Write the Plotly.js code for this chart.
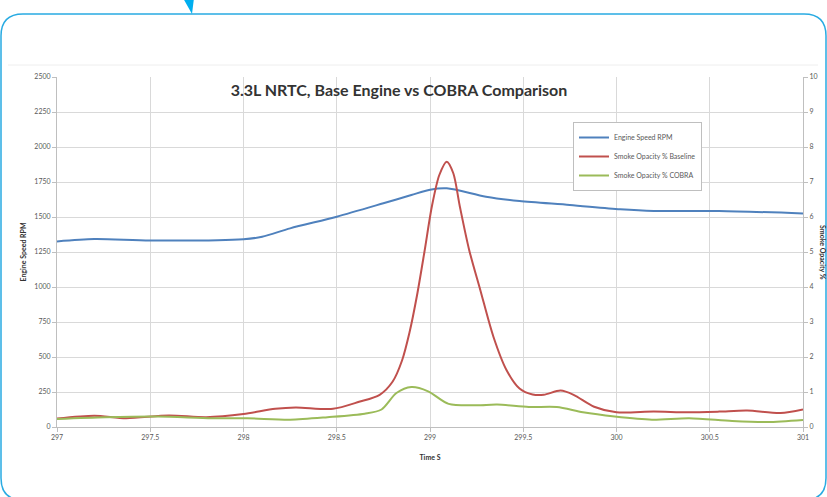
<!DOCTYPE html>
<html><head><meta charset="utf-8">
<script src="https://cdn.plot.ly/plotly-3.0.1.min.js"></script>
<style>html,body{margin:0;padding:0;background:#fff}#chart{width:827px;height:497px}</style>
</head><body><div id="chart"></div>
<script>
// Engine speed (RPM, left axis)
const timeRpm = [297, 297.2, 297.5, 298, 298.1, 298.25, 298.5, 298.75, 298.9, 299, 299.09, 299.3, 299.48, 299.75, 300.02, 300.2, 300.55, 301];
const engineRpm = [1325, 1342, 1332, 1341, 1359, 1419, 1502, 1598, 1657, 1695, 1705, 1645, 1614, 1586, 1555, 1543, 1543, 1525];

// Smoke opacity baseline (%, right axis)
const timeBase = [297, 297.2, 297.37, 297.6, 297.8, 298.0, 298.17, 298.28, 298.48, 298.62, 298.73, 298.8, 298.85, 298.89, 298.93, 298.97, 299.01, 299.05, 299.09, 299.125, 299.16, 299.21, 299.27, 299.34, 299.41, 299.48, 299.55, 299.61, 299.7, 299.77, 299.88, 300.0, 300.2, 300.38, 300.55, 300.7, 300.88, 301];
const opacityBase = [0.24, 0.32, 0.25, 0.33, 0.28, 0.37, 0.52, 0.56, 0.52, 0.72, 0.92, 1.3, 1.9, 2.7, 3.75, 5.0, 6.3, 7.2, 7.58, 7.25, 6.3, 5.06, 3.91, 2.58, 1.63, 1.1, 0.93, 0.92, 1.04, 0.92, 0.58, 0.42, 0.44, 0.42, 0.44, 0.47, 0.4, 0.5];

// Smoke opacity COBRA (%, right axis)
const timeCobra = [297, 297.26, 297.54, 297.83, 298.02, 298.25, 298.45, 298.65, 298.74, 298.82, 298.9, 298.99, 299.1, 299.25, 299.36, 299.53, 299.68, 299.82, 299.99, 300.19, 300.39, 300.62, 300.81, 301];
const opacityCobra = [0.23, 0.28, 0.3, 0.25, 0.25, 0.21, 0.28, 0.38, 0.5, 0.97, 1.14, 1.02, 0.66, 0.62, 0.64, 0.57, 0.57, 0.42, 0.3, 0.21, 0.25, 0.17, 0.14, 0.2];

const xTicks = [297, 297.5, 298, 298.5, 299, 299.5, 300, 300.5, 301];
const xTickText = ['297', '297.5', '298', '298.5', '299', '299.5', '300', '300.5', '301'];
const yTicks = [0, 250, 500, 750, 1000, 1250, 1500, 1750, 2000, 2250, 2500];
const y2Ticks = [0, 1, 2, 3, 4, 5, 6, 7, 8, 9, 10];

const names = ['Engine Speed RPM', 'Smoke Opacity % Baseline', 'Smoke Opacity % COBRA'];

// pixel -> paper helpers for decoration
const L = 57, R = 803, T = 77, B = 427;
const px = X => (X - L) / (R - L);
const py = Y => (B - Y) / (B - T);

const traces = [
  {x: timeRpm, y: engineRpm, name: names[0], type: 'scatter', mode: 'lines',
   line: {color: '#4F81BD', width: 2, shape: 'spline', smoothing: 0.8}},
  {x: timeBase, y: opacityBase, name: names[1], type: 'scatter', mode: 'lines', yaxis: 'y2',
   line: {color: '#C0504D', width: 2, shape: 'spline', smoothing: 0.8}},
  {x: timeCobra, y: opacityCobra, name: names[2], type: 'scatter', mode: 'lines', yaxis: 'y2',
   line: {color: '#9BBB59', width: 2, shape: 'spline', smoothing: 0.8}}
];

const fr = 22, fL = 1, fRr = 826, fT = 14, fB = 500;
const framePath =
  'M ' + px(fL + fr) + ',' + py(fB) +
  ' Q ' + px(fL) + ',' + py(fB) + ' ' + px(fL) + ',' + py(fB - fr) +
  ' L ' + px(fL) + ',' + py(fT + fr) +
  ' Q ' + px(fL) + ',' + py(fT) + ' ' + px(fL + fr) + ',' + py(fT) +
  ' L ' + px(fRr - fr) + ',' + py(fT) +
  ' Q ' + px(fRr) + ',' + py(fT) + ' ' + px(fRr) + ',' + py(fT + fr) +
  ' L ' + px(fRr) + ',' + py(fB - fr) +
  ' Q ' + px(fRr) + ',' + py(fB) + ' ' + px(fRr - fr) + ',' + py(fB);
const triPath = 'M ' + px(183) + ',' + py(-2) + ' L ' + px(194) + ',' + py(-2) + ' L ' + px(192) + ',' + py(14) + ' Z';

const tickFont = {family: 'Lato, "Open Sans", sans-serif', size: 7, color: '#595959'};
const layout = {
  width: 827, height: 497,
  margin: {l: L, r: 827 - R, t: T, b: 497 - B},
  paper_bgcolor: '#ffffff', plot_bgcolor: '#ffffff',
  font: {family: 'Lato, "Open Sans", sans-serif', color: '#404040'},
  title: {text: '<b>3.3L NRTC, Base Engine vs COBRA Comparison</b>',
          font: {family: 'Lato, "Open Sans", sans-serif', size: 16, color: '#333333'},
          x: 399 / 827, xref: 'container', xanchor: 'center',
          y: 1 - 90 / 497, yref: 'container', yanchor: 'middle'},
  xaxis: {range: [297, 301], tickvals: xTicks, ticktext: xTickText,
          showgrid: true, gridcolor: '#d9d9d9', gridwidth: 1,
          showline: true, linecolor: '#bfbfbf', ticks: 'outside', ticklen: 4, tickcolor: '#bfbfbf',
          tickfont: tickFont, zeroline: false,
          title: {text: '<b>Time S</b>', font: {size: 7, color: '#333333'}, standoff: 14}},
  yaxis: {range: [0, 2500], tickvals: yTicks,
          showgrid: true, gridcolor: '#d9d9d9', gridwidth: 1,
          showline: true, linecolor: '#bfbfbf', ticks: 'outside', ticklen: 4, tickcolor: '#bfbfbf',
          tickfont: tickFont, zeroline: false,
          title: {text: '<b>Engine Speed RPM</b>', font: {size: 7, color: '#333333'}, standoff: 6}},
  yaxis2: {range: [0, 10], tickvals: y2Ticks, overlaying: 'y', side: 'right',
           showgrid: false, showline: true, linecolor: '#bfbfbf', ticks: 'outside', ticklen: 4, tickcolor: '#bfbfbf',
           tickfont: tickFont, zeroline: false},
  legend: {x: px(573), y: py(122), xanchor: 'left', yanchor: 'top',
           bgcolor: '#ffffff', bordercolor: '#bfbfbf', borderwidth: 1,
           font: {size: 7, color: '#595959'}, itemwidth: 30, tracegroupgap: 2},
  annotations: [
    {text: '<b>Smoke Opacity %</b>', xref: 'paper', yref: 'paper', x: px(823), y: 0.5,
     textangle: 90, showarrow: false, font: {size: 7, color: '#333333'}, xanchor: 'center', yanchor: 'middle'}
  ],
  shapes: [
    {type: 'line', xref: 'paper', yref: 'paper', x0: px(8), x1: px(818), y0: py(65), y1: py(65),
     line: {color: '#eeeeee', width: 1}, layer: 'below'},
    {type: 'path', xref: 'paper', yref: 'paper', path: framePath, line: {color: '#29ABE2', width: 1.5}},
    {type: 'path', xref: 'paper', yref: 'paper', path: triPath, fillcolor: '#00AEEF', line: {width: 0}}
  ],
  showlegend: true
};

Plotly.newPlot('chart', traces, layout, {displayModeBar: false, staticPlot: true});
</script>
</body></html>
